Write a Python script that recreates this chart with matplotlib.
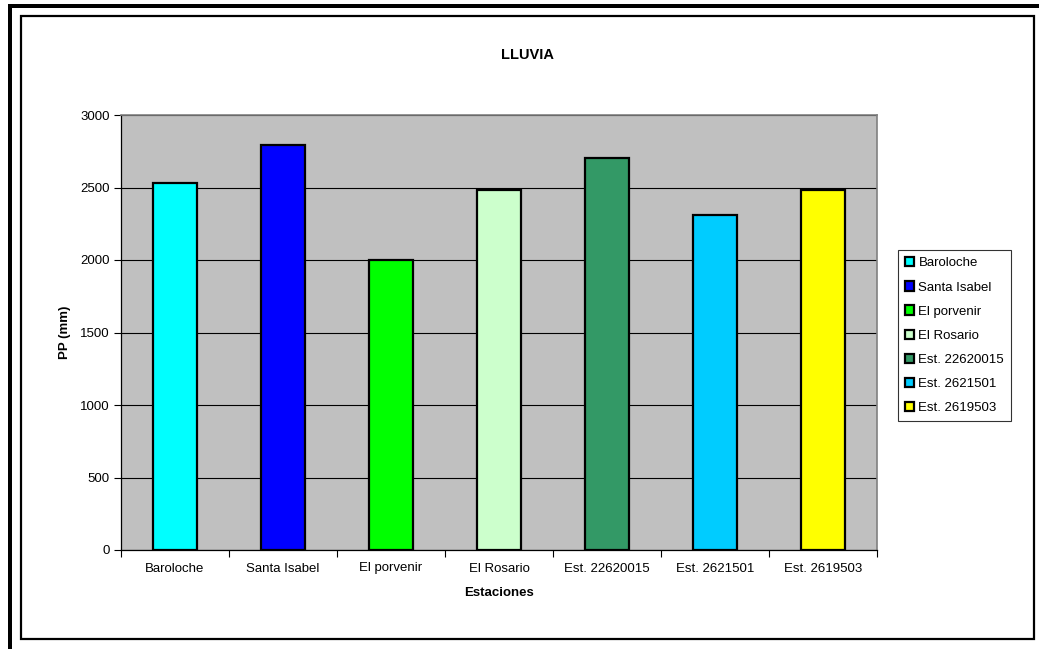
import matplotlib
matplotlib.use("Agg")
import matplotlib.pyplot as plt
from matplotlib.patches import Rectangle
from matplotlib.ticker import FixedLocator, NullFormatter

plt.rcParams['font.family'] = ['Liberation Sans', 'DejaVu Sans']

stations = ["Baroloche", "Santa Isabel", "El porvenir", "El Rosario",
            "Est. 22620015", "Est. 2621501", "Est. 2619503"]
rainfall = [2533, 2793, 2000, 2483, 2703, 2310, 2483]
colors = ["#00FFFF", "#0000FF", "#00FF00", "#CCFFCC", "#339966", "#00CCFF", "#FFFF00"]
yticks = [0, 500, 1000, 1500, 2000, 2500, 3000]

W, H = 1039, 649
fig = plt.figure(figsize=(W / 100, H / 100), dpi=100)
fig.patch.set_facecolor("white")

def fx(px):
    return px / W

def fy(py):
    return 1 - py / H

# frames
fig.add_artist(Rectangle((fx(8), fy(8)), fx(1039) - fx(8), fy(4) - fy(8),
                         transform=fig.transFigure, facecolor="black", edgecolor="none"))
fig.add_artist(Rectangle((fx(8), fy(649)), fx(12) - fx(8), fy(4) - fy(649),
                         transform=fig.transFigure, facecolor="black", edgecolor="none"))
fig.add_artist(Rectangle((fx(21), fy(639)), fx(1034) - fx(21), fy(16) - fy(639),
                         transform=fig.transFigure, facecolor="none", edgecolor="black",
                         linewidth=1.6))

ax = fig.add_axes([fx(121), fy(550), fx(877) - fx(121), fy(115) - fy(550)])
ax.set_facecolor("#C0C0C0")

for i, (name, val, c) in enumerate(zip(stations, rainfall, colors)):
    ax.bar(i, val, width=0.4, color=c, edgecolor="black", linewidth=1.6, label=name, zorder=3)

ax.set_xlim(-0.5, len(stations) - 0.5)
ax.set_ylim(0, 3000)
ax.set_yticks(yticks)
ax.yaxis.grid(True, color="black", linewidth=0.8, zorder=1)
ax.set_axisbelow(True)

ax.xaxis.set_major_locator(FixedLocator([i - 0.5 for i in range(len(stations) + 1)]))
ax.xaxis.set_major_formatter(NullFormatter())
ax.xaxis.set_minor_locator(FixedLocator(list(range(len(stations)))))
ax.set_xticklabels(stations, minor=True)
ax.tick_params(axis="x", which="major", length=5, width=0.8, direction="out", color="black")
ax.tick_params(axis="x", which="minor", length=0, labelsize=9.5, pad=9)
ax.tick_params(axis="y", length=5, width=0.8, direction="out", labelsize=9.5, pad=3)

for s in ["left", "bottom"]:
    ax.spines[s].set_color("black")
    ax.spines[s].set_linewidth(0.9)
for s in ["top", "right"]:
    ax.spines[s].set_color("#808080")
    ax.spines[s].set_linewidth(1.2)

ax.set_xlabel("Estaciones", fontsize=9.5, fontweight="bold", labelpad=9)
ax.set_ylabel("PP (mm)", fontsize=9.5, fontweight="bold", labelpad=7)
fig.text(fx(527), fy(55), "LLUVIA", fontsize=10.5, fontweight="bold", ha="center", va="center")

leg = fig.legend(loc="upper left", bbox_to_anchor=(fx(898), fy(250)),
                 bbox_transform=fig.transFigure, fontsize=9.5, frameon=True,
                 fancybox=False, edgecolor="black", handlelength=0.7, handleheight=0.7,
                 handletextpad=0.3, labelspacing=0.9, borderpad=0.55, borderaxespad=0)
leg.get_frame().set_linewidth(0.8)

fig.savefig("out.png", dpi=100)
